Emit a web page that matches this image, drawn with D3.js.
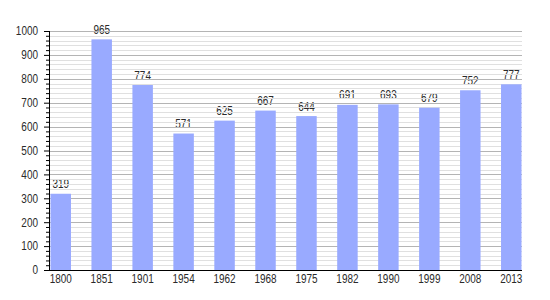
<!DOCTYPE html>
<html>
<head>
<meta charset="utf-8">
<script src="https://cdn.jsdelivr.net/npm/d3@7"></script>
<style>
  body { margin: 0; background: #fff; }
  text { font-family: "Liberation Sans", Arial, sans-serif; font-size: 12px; fill: #2a2a2a; }
</style>
</head>
<body>
<div id="chart"></div>
<script>
// data
var years = ["1800", "1851", "1901", "1954", "1962", "1968", "1975", "1982", "1990", "1999", "2008", "2013"];
var population = [319, 965, 774, 571, 625, 667, 644, 691, 693, 679, 752, 777];
var yTicks = [0, 100, 200, 300, 400, 500, 600, 700, 800, 900, 1000];

// plot edges (note: "top" is a reserved window property, so use plot* names)
var W = 550, H = 300;
var plotLeft = 49, plotRight = 522, plotTop = 31, plotBottom = 270;

var svg = d3.select("#chart")
  .append("svg")
    .attr("width", W)
    .attr("height", H);

var x = d3.scaleBand()
  .domain(years)
  .range([50.5, 521.5])
  .paddingInner(0.5)
  .paddingOuter(0);

var y = d3.scaleLinear()
  .domain([0, 1000])
  .range([plotBottom, plotTop]);

// value labels (drawn first, grid lines run across them like in the original)
svg.append("g")
  .selectAll("text")
  .data(population)
  .enter()
  .append("text")
    .attr("class", "value")
    .attr("x", function(d, i) { return x(years[i]) + x.bandwidth() / 2; })
    .attr("y", function(d) { return y(d) - 5.5; })
    .attr("text-anchor", "middle")
    .text(function(d) { return d; });

// minor grid every 20
var minor = d3.range(0, 1001, 20).filter(function(v) { return v % 100 != 0; });
svg.append("g")
  .selectAll("line")
  .data(minor)
  .enter()
  .append("line")
    .attr("x1", plotLeft)
    .attr("x2", plotRight)
    .attr("y1", function(d) { return Math.round(y(d)) + 0.5; })
    .attr("y2", function(d) { return Math.round(y(d)) + 0.5; })
    .attr("stroke", "#e0e0e0")
    .attr("stroke-width", 1);

// major grid every 100
svg.append("g")
  .selectAll("line")
  .data(yTicks.filter(function(v) { return v > 0; }))
  .enter()
  .append("line")
    .attr("x1", plotLeft)
    .attr("x2", plotRight)
    .attr("y1", function(d) { return Math.round(y(d)) + 0.5; })
    .attr("y2", function(d) { return Math.round(y(d)) + 0.5; })
    .attr("stroke", "#b4b4b4")
    .attr("stroke-width", 1);

// bars
svg.append("g")
  .selectAll("rect")
  .data(population)
  .enter()
  .append("rect")
    .attr("x", function(d, i) { return x(years[i]); })
    .attr("y", function(d) { return y(d); })
    .attr("width", x.bandwidth())
    .attr("height", function(d) { return plotBottom - y(d); })
    .attr("fill", "#99aaff");

// y axis: minor ticks
svg.append("g")
  .attr("transform", "translate(" + plotLeft + ",0)")
  .call(d3.axisLeft(y).tickValues(minor).tickSize(3).tickFormat(""))
  .call(function(g) { g.select(".domain").remove(); });

// y axis: major ticks with labels
var yAxis = svg.append("g")
  .attr("transform", "translate(" + plotLeft + ",0)")
  .call(d3.axisLeft(y).tickValues(yTicks).tickSize(5).tickPadding(6).tickFormat(d3.format("d")));
yAxis.select(".domain").attr("d", "M0.5," + plotTop + "V" + plotBottom);

// x axis
var xAxis = svg.append("g")
  .attr("transform", "translate(0," + plotBottom + ")")
  .call(d3.axisBottom(x).tickSize(0).tickPadding(4));
xAxis.select(".domain").attr("d", "M" + (plotLeft - 4) + ",0.5H" + plotRight);

// the reference text is tall and narrow: squeeze glyphs horizontally
svg.selectAll("g").attr("font-size", null).attr("font-family", null);
svg.selectAll("text")
  .filter(function() { return this.textContent.length > 0; })
  .each(function() {
    var len = this.getComputedTextLength();
    d3.select(this)
      .attr("textLength", len * 0.83)
      .attr("lengthAdjust", "spacingAndGlyphs");
  });
</script>
</body>
</html>
